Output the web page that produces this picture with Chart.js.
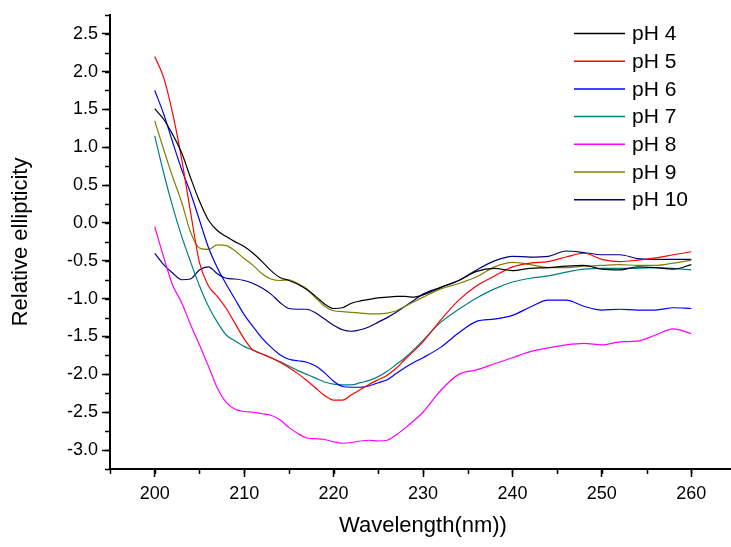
<!DOCTYPE html>
<html>
<head>
<meta charset="utf-8">
<script src="https://cdn.jsdelivr.net/npm/chart.js@4.4.0/dist/chart.umd.min.js"></script>
<style>
  html, body { margin: 0; padding: 0; background: #fff; overflow: hidden; }
</style>
</head>
<body>
<canvas id="cdChart" width="740" height="547"></canvas>
<script>
// Datos (elipticidad relativa vs longitud de onda)
const wavelengths = [200,201,202,203,204,205,206,207,208,209,210,211,212,213,214,215,216,217,218,219,220,
  221,222,223,224,225,226,227,228,229,230,232,234,236,238,240,242,244,246,248,250,252,254,256,258,260];

const ph4 = [1.51,1.37,1.17,0.93,0.60,0.29,0.04,-0.10,-0.18,-0.25,-0.31,-0.40,-0.51,-0.63,-0.72,-0.76,-0.81,-0.88,-0.97,-1.07,-1.13,
  -1.12,-1.06,-1.03,-1.01,-0.99,-0.98,-0.97,-0.97,-0.98,-0.95,-0.85,-0.76,-0.64,-0.60,-0.63,-0.60,-0.59,-0.57,-0.56,-0.61,-0.62,-0.58,-0.59,-0.61,-0.55];
const ph5 = [2.20,1.92,1.45,0.85,0.15,-0.52,-0.83,-0.97,-1.13,-1.33,-1.53,-1.68,-1.73,-1.78,-1.84,-1.91,-1.99,-2.08,-2.18,-2.28,-2.34,
  -2.34,-2.27,-2.20,-2.13,-2.07,-2.01,-1.92,-1.80,-1.69,-1.57,-1.28,-1.02,-0.83,-0.70,-0.58,-0.53,-0.51,-0.45,-0.40,-0.48,-0.51,-0.49,-0.46,-0.42,-0.38];
const ph6 = [1.75,1.44,1.07,0.71,0.40,0.04,-0.32,-0.59,-0.81,-1.01,-1.21,-1.37,-1.52,-1.64,-1.74,-1.80,-1.82,-1.84,-1.89,-1.98,-2.09,
  -2.16,-2.17,-2.17,-2.15,-2.11,-2.07,-1.99,-1.91,-1.84,-1.78,-1.64,-1.45,-1.30,-1.27,-1.22,-1.11,-1.02,-1.02,-1.10,-1.15,-1.14,-1.15,-1.15,-1.12,-1.13];
const ph7 = [1.15,0.66,0.22,-0.17,-0.51,-0.83,-1.10,-1.31,-1.48,-1.56,-1.63,-1.68,-1.73,-1.78,-1.83,-1.89,-1.95,-2.00,-2.05,-2.10,-2.13,
  -2.14,-2.14,-2.11,-2.08,-2.03,-1.96,-1.87,-1.78,-1.67,-1.55,-1.31,-1.14,-0.99,-0.87,-0.78,-0.73,-0.70,-0.65,-0.61,-0.60,-0.60,-0.60,-0.59,-0.60,-0.62];
const ph8 = [-0.05,-0.45,-0.82,-1.05,-1.34,-1.61,-1.89,-2.18,-2.37,-2.46,-2.49,-2.50,-2.52,-2.54,-2.60,-2.70,-2.78,-2.84,-2.85,-2.86,-2.89,
  -2.91,-2.90,-2.88,-2.87,-2.88,-2.87,-2.80,-2.71,-2.61,-2.50,-2.21,-2.00,-1.94,-1.86,-1.78,-1.70,-1.65,-1.61,-1.59,-1.61,-1.57,-1.56,-1.48,-1.40,-1.46];
const ph9 = [1.35,0.97,0.61,0.28,-0.12,-0.33,-0.35,-0.29,-0.30,-0.37,-0.47,-0.56,-0.67,-0.74,-0.76,-0.75,-0.80,-0.87,-0.99,-1.10,-1.16,
  -1.17,-1.18,-1.19,-1.20,-1.20,-1.19,-1.16,-1.10,-1.04,-0.98,-0.87,-0.80,-0.71,-0.58,-0.52,-0.55,-0.59,-0.59,-0.57,-0.56,-0.55,-0.56,-0.56,-0.53,-0.49];
const ph10 = [-0.40,-0.55,-0.66,-0.75,-0.74,-0.62,-0.58,-0.67,-0.73,-0.74,-0.76,-0.80,-0.86,-0.94,-1.05,-1.13,-1.14,-1.14,-1.19,-1.27,-1.35,
  -1.41,-1.43,-1.41,-1.37,-1.31,-1.25,-1.18,-1.10,-1.02,-0.94,-0.85,-0.76,-0.62,-0.50,-0.44,-0.45,-0.44,-0.37,-0.39,-0.42,-0.42,-0.47,-0.48,-0.48,-0.48];

const seriesNames = ['pH 4', 'pH 5', 'pH 6', 'pH 7', 'pH 8', 'pH 9', 'pH 10'];
const seriesValues = [ph4, ph5, ph6, ph7, ph8, ph9, ph10];
const seriesColors = ['#000000', '#ff0000', '#0000ff', '#008080', '#ff00ff', '#808000', '#000080'];

const xMajorTicks = [200, 210, 220, 230, 240, 250, 260];
const yMajorTicks = [-3.0, -2.5, -2.0, -1.5, -1.0, -0.5, 0.0, 0.5, 1.0, 1.5, 2.0, 2.5];

const fontFam = '"Liberation Sans", Arial, sans-serif';

// ticks menores (cada 5 nm y cada 0.25)
const minorTicks = {
  id: 'minorTicks',
  afterDraw(chart) {
    const { ctx, chartArea } = chart;
    const x = chart.scales.x, y = chart.scales.y;
    ctx.save();
    ctx.strokeStyle = '#000';
    ctx.lineWidth = 1.5;
    ctx.beginPath();
    for (let v = x.min; v <= x.max + 0.001; v += 5) {
      const px = Math.round(x.getPixelForValue(v)) + 0.5;
      ctx.moveTo(px, chartArea.bottom);
      ctx.lineTo(px, chartArea.bottom + 5);
    }
    for (let v = y.min; v <= y.max + 0.001; v += 0.25) {
      const py = Math.round(y.getPixelForValue(v)) + 0.5;
      ctx.moveTo(chartArea.left, py);
      ctx.lineTo(chartArea.left - 5, py);
    }
    ctx.stroke();
    ctx.restore();
  }
};

// leyenda dentro del area
const legendInside = {
  id: 'legendInside',
  afterDraw(chart) {
    const ctx = chart.ctx;
    ctx.save();
    ctx.font = '21px ' + fontFam;
    ctx.textBaseline = 'middle';
    ctx.textAlign = 'left';
    chart.data.datasets.forEach((ds, i) => {
      const yy = 33.5 + i * 27.7;
      ctx.strokeStyle = ds.borderColor;
      ctx.lineWidth = 1.5;
      ctx.beginPath();
      ctx.moveTo(574, yy);
      ctx.lineTo(625, yy);
      ctx.stroke();
      ctx.fillStyle = '#000';
      ctx.fillText(ds.label, 632, yy + 1);
    });
    ctx.restore();
  }
};

const cdChart = document.getElementById('cdChart');

new Chart(cdChart, {
  type: 'line',
  data: {
    labels: wavelengths,
    datasets: seriesNames.map((name, i) => ({
      label: name,
      data: wavelengths.map((w, j) => ({ x: w, y: seriesValues[i][j] })),
      borderColor: seriesColors[i],
      backgroundColor: seriesColors[i],
      borderWidth: 1.2,
      pointRadius: 0,
      fill: false,
      cubicInterpolationMode: 'monotone'
    }))
  },
  options: {
    responsive: false,
    animation: false,
    layout: { padding: { top: 10, right: 4, left: 0, bottom: 0 } },
    plugins: {
      legend: { display: false },
      tooltip: { enabled: false }
    },
    scales: {
      x: {
        type: 'linear',
        min: 195,
        max: 265,
        afterBuildTicks: (s) => { s.ticks = xMajorTicks.map(v => ({ value: v })); },
        afterFit: (s) => { s.height = 78; },
        border: { color: '#000', width: 2 },
        grid: { drawOnChartArea: false, drawTicks: true, tickLength: 8, tickColor: '#000', tickWidth: 1.5 },
        ticks: { color: '#000', padding: 6, font: { family: fontFam, size: 18 }, maxRotation: 0 },
        title: { display: true, text: 'Wavelength(nm))', color: '#000', font: { family: fontFam, size: 22 }, padding: { top: 0, bottom: 8 } }
      },
      y: {
        min: -3.25,
        max: 2.75,
        afterBuildTicks: (s) => { s.ticks = yMajorTicks.map(v => ({ value: v })); },
        afterFit: (s) => { s.width = 110; },
        border: { color: '#000', width: 2 },
        grid: { drawOnChartArea: false, drawTicks: true, tickLength: 8, tickColor: '#000', tickWidth: 1.5 },
        ticks: { color: '#000', padding: 4, font: { family: fontFam, size: 18 }, callback: (v) => Number(v).toFixed(1) },
        title: { display: true, text: 'Relative ellipticity', color: '#000', font: { family: fontFam, size: 22 }, padding: { top: 8, bottom: 0 } }
      }
    }
  },
  plugins: [minorTicks, legendInside]
});
</script>
</body>
</html>
